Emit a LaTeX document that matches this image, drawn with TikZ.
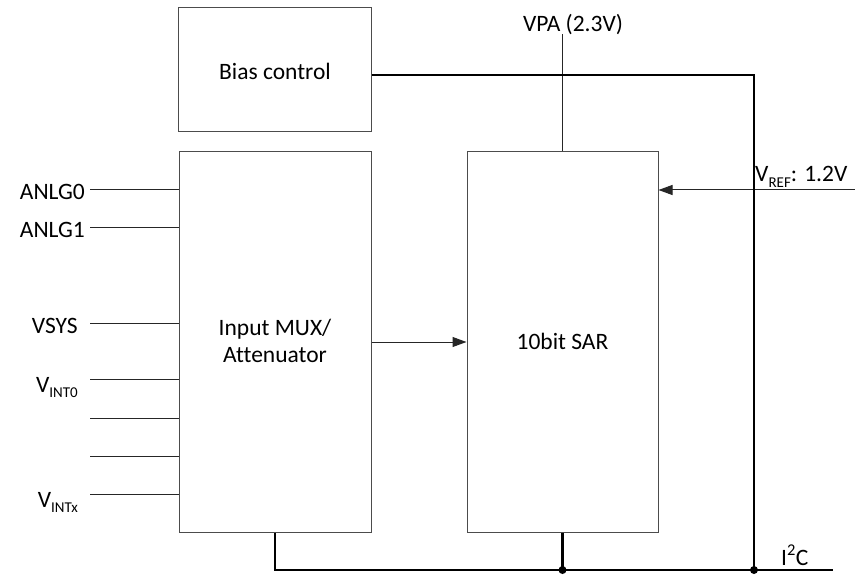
\documentclass[tikz,border=0pt]{standalone}
\usepackage{fontspec}
\setmainfont{Carlito}[Ligatures=NoCommon]
\usetikzlibrary{arrows.meta}
\newcommand{\lowtxt}[1]{\raisebox{-0.22em}{\fontsize{15}{15}\selectfont #1}}
\begin{document}
\begin{tikzpicture}[x=1pt,y=-1pt,
  font=\fontsize{23.5}{27}\selectfont,
  blk/.style={draw=black!70, line width=1pt, inner sep=0pt, align=center},
  wire/.style={draw=black!85, line width=1pt},
  bus/.style={draw=black, line width=2.6pt},
  lbl/.style={inner sep=0pt, anchor=base east},
  tip/.style={-{Triangle[length=14pt,width=10pt]}},
  dot/.style={circle, fill=black, inner sep=0pt, minimum size=8pt}]
\useasboundingbox (0,0) rectangle (855,575);

% blocks
\node[blk, minimum width=193pt, minimum height=124pt] (bias) at (274.5,70) {};
\node (biastxt) at (275,71) {Bias control};
\node[blk, minimum width=192pt, minimum height=380pt] (mux) at (275,342) {};
\node[blk, minimum width=191pt, minimum height=380pt] (sar) at (562.5,342) {};
\node[align=center] (muxtxt) at (275,341) {Input MUX/\\Attenuator};
\node (sartxt) at (562.5,341) {10bit SAR};

% input wires
\foreach \n/\y in {a/190,b/228,c/323,d/379,e/418,f/456,g/494}{
  \coordinate (in\n) at (90,\y);
  \draw[wire] (in\n) -- (in\n -| mux.west);
}
\node[lbl] (la) at (85,200) {ANLG0};
\node[lbl] (lb) at (85,238) {ANLG1};
\node[lbl] (lc) at (78,333) {VSYS};
\node[lbl] (ld) at (78,392) {V\lowtxt{INT0}};
\node[lbl] (lg) at (78,507) {V\lowtxt{INTx}};

% VPA
\coordinate (vpa) at (562.5,34);
\draw[wire] (sar.north) -- (vpa);
\node[inner sep=0pt, anchor=base] (vpatxt) at (573,32) {VPA (2.3V)};

% VREF
\coordinate (vref) at (855,190);
\draw[wire, tip] (vref) -- (vref -| sar.east);
\node[inner sep=0pt, anchor=base west] (vreftxt) at (755,182) {V\lowtxt{REF}: 1.2V};

% mux to sar
\draw[wire, tip] (mux.east) -- (sar.west);

% bus
\coordinate (busR) at (833,570);
\coordinate (corner) at (754,75);
\node[dot] (d1) at (sar.south |- busR) {};
\node[dot] (d2) at (corner |- busR) {};
\draw[bus] (mux.south) |- (busR);
\draw[bus] (sar.south) -- (d1.center);
\draw[bus] ([yshift=-5pt]bias.east) -| (d2.center);
\node[inner sep=0pt, anchor=base west] (i2c) at (781,565) {I\textsuperscript{2}C};
\end{tikzpicture}
\end{document}
